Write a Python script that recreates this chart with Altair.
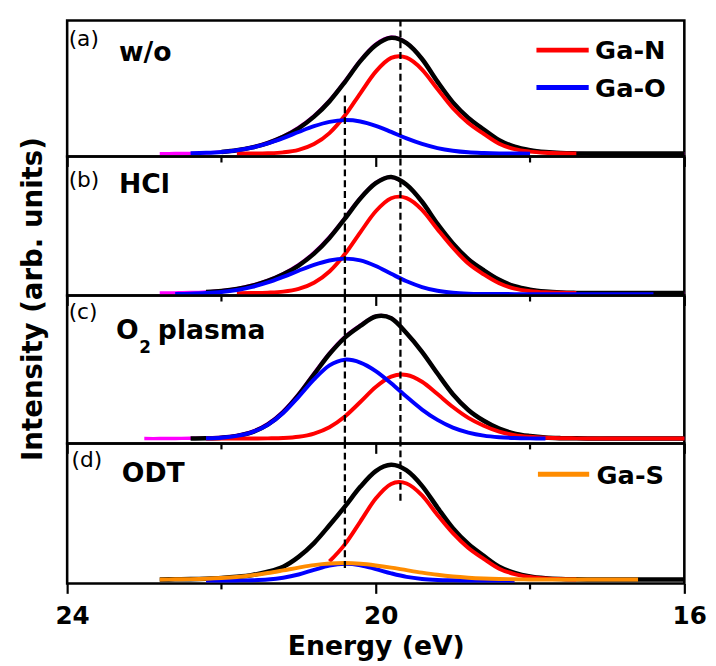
import altair as alt
import pandas as pd

N = None

# Binding energy grid (eV)
ENERGY = [23.0, 22.8, 22.6, 22.4, 22.2, 22.0, 21.8, 21.6, 21.4, 21.2,
          21.0, 20.8, 20.6, 20.4, 20.2, 20.0, 19.8, 19.6, 19.4, 19.2,
          19.0, 18.8, 18.6, 18.4, 18.2, 18.0, 17.8, 17.6, 17.4, 17.2,
          17.0, 16.8, 16.6, 16.4, 16.2, 16.0]

# (a) w/o
A_DATA = [N, 3.0, 3.1, 3.3, 3.8, 4.8, 6.6, 9.6, 14.2, 20.6,
          29.5, 41.4, 57.0, 76.6, 97.6, 114.0, 121.0, 115.4, 99.0, 76.0,
          55.0, 39.3, 27.5, 16.7, 10.0, 6.5, 4.6, 3.6, 3.2, 3.0,
          3.0, 3.0, 3.0, 3.0, 3.0, 3.0]
A_FIT = [N, N, N, N, N, 4.7, 6.4, 9.3, 13.7, 20.0,
         28.7, 40.5, 56.0, 75.6, 96.8, 113.0, 120.5, 115.0, 99.0, 76.0,
         55.0, 39.3, 27.5, 16.7, 10.0, 6.5, 4.6, 3.6, 3.2, 3.0,
         3.0, 3.0, 3.0, 3.0, 3.0, 3.0]
A_GAN = [N, N, N, N, N, N, 3.0, 3.1, 3.4, 4.3,
         6.8, 12.7, 23.8, 41.6, 64.2, 86.2, 100.1, 100.3, 88.3, 68.5,
         49.0, 34.0, 23.0, 13.0, 7.5, 5.0, 3.8, 3.3, 3.1, N,
         N, N, N, N, N, N]
A_GAO = [N, N, N, 3.3, 3.8, 4.7, 6.4, 9.2, 13.3, 18.7,
         24.9, 30.8, 35.2, 37.0, 35.6, 31.2, 25.0, 18.4, 12.8, 8.6,
         5.9, 4.3, 3.6, 3.2, 3.1, 3.0, N, N, N, N,
         N, N, N, N, N, N]

# (b) HCl
B_DATA = [N, 2.6, 2.8, 3.1, 3.8, 5.0, 7.1, 10.5, 15.4, 22.2,
          31.4, 43.6, 59.5, 79.0, 99.2, 114.5, 120.0, 112.4, 95.2, 72.7,
          52.9, 37.0, 25.7, 16.0, 9.5, 6.0, 4.1, 3.1, 2.7, 2.5,
          2.5, 2.5, 2.5, 2.5, 2.5, 2.5]
B_FIT = [N, N, N, N, 3.6, 4.7, 6.7, 10.0, 14.8, 21.5,
         30.5, 42.6, 58.5, 78.1, 98.5, 114.0, 120.3, 112.4, 95.2, 72.7,
         52.9, 37.0, 25.7, 16.0, 9.5, 6.0, 4.1, 3.1, 2.7, 2.5,
         2.5, 2.5, 2.5, 2.5, 2.5, 2.5]
B_GAN = [N, N, N, N, N, N, 2.5, 2.6, 3.0, 4.0,
         6.8, 13.0, 24.4, 42.1, 64.2, 85.5, 98.7, 98.9, 87.0, 67.3,
         48.5, 32.5, 21.5, 12.5, 7.0, 4.5, 3.3, 2.8, 2.6, N,
         N, N, N, N, N, N]
B_GAO = [N, N, 1.7, 2.0, 2.6, 3.7, 5.7, 8.9, 13.3, 19.0,
         25.2, 31.1, 35.6, 37.5, 35.8, 30.0, 22.1, 14.5, 8.7, 4.9,
         2.9, 2.0, 1.7, 1.6, 1.5, 1.5, 1.5, 1.5, 1.5, 1.5,
         1.5, 1.5, 1.5, 1.5, N, N]

# (c) O2 plasma
C_DATA = [5.0, 5.0, 5.1, 5.3, 5.6, 6.3, 8.3, 12.3, 20.1, 32.8,
          50.4, 71.3, 91.8, 108.3, 120.0, 129.2, 127.2, 111.8, 93.0, 71.0,
          50.0, 34.0, 23.0, 15.0, 10.0, 7.5, 6.0, 5.4, 5.2, 5.0,
          5.0, 5.0, 5.0, 5.0, 5.0, 5.0]
C_FIT = [N, N, N, 5.1, 5.3, 5.9, 7.7, 11.5, 19.1, 31.6,
         49.2, 70.1, 90.7, 107.4, 119.2, 128.8, 126.9, 111.8, 93.0, 71.0,
         50.0, 34.0, 23.0, 15.0, 10.0, 7.5, 6.0, 5.4, 5.2, 5.0,
         5.0, 5.0, 5.0, 5.0, 5.0, 5.0]
C_GAN = [N, N, N, N, 5.0, 5.0, 5.0, 5.0, 5.2, 5.6,
         6.9, 10.1, 16.5, 27.4, 42.1, 57.3, 67.8, 69.5, 62.6, 50.1,
         37.0, 26.0, 18.0, 12.0, 8.5, 6.8, 5.9, 5.4, 5.2, 5.0,
         5.0, 5.0, 5.0, 5.0, 5.0, 5.0]
C_GAO = [N, N, N, N, 5.3, 5.9, 7.7, 11.5, 18.9, 31.0,
         47.3, 65.0, 79.2, 85.0, 82.1, 73.5, 61.1, 47.3, 34.4, 23.9,
         16.1, 11.1, 8.0, 6.4, 5.6, 5.2, 5.0, N, N, N,
         N, N, N, N, N, N]

# (d) ODT
D_FIT = [N, 4.1, 4.2, 4.4, 4.8, 5.5, 6.7, 8.6, 11.9, 17.0,
         27.0, 41.0, 59.0, 78.0, 98.0, 114.0, 120.4, 114.6, 99.0, 77.0,
         56.0, 40.0, 28.0, 17.0, 10.8, 7.1, 5.3, 4.5, 4.2, 4.0,
         4.0, 4.0, 4.0, 4.0, 4.0, 4.0]
D_GAN = [N, N, N, N, N, N, N, N, N, N,
         N, N, 22.3, 39.7, 62.8, 86.1, 101.0, 101.4, 89.3, 69.5,
         51.0, 36.0, 25.0, 15.0, 9.5, 6.5, 5.0, 4.4, 4.1, N,
         N, N, N, N, N, N]
D_GAO = [N, N, N, N, 3.0, 3.0, 3.1, 3.3, 4.0, 5.8,
         9.1, 13.8, 18.2, 20.0, 18.5, 14.6, 10.3, 6.7, 4.6, 3.6,
         3.2, 3.0, 3.0, 3.0, 3.0, N, N, N, N, N,
         N, N, N, N, N, N]
D_GAS = [N, 4.1, 4.2, 4.4, 4.8, 5.5, 6.6, 8.3, 10.6, 13.3,
         16.1, 18.6, 20.2, 20.7, 20.0, 18.3, 16.1, 13.5, 11.0, 8.8,
         7.1, 5.9, 5.1, 4.6, 4.3, 4.1, 4.0, 4.0, 4.0, 4.0,
         4.0, 4.0, 4.0, N, N, N]

PANEL_HEIGHT = [138, 141, 150, 142]
DASH_ENERGY = [20.40, 19.68]
DASH_FROM = [[0, 0], [0, 0], [0, 0], [15.7, 84]]
DASH_TO = [[65, 138], [141, 141], [150, 150], [142, 142]]
MAJOR_TICKS = [24, 20, 16]
MINOR_TICKS = [22, 18]

COL_DATA, COL_FIT = "#ff00ff", "#000000"
COL_GAN, COL_GAO, COL_GAS = "#ff0000", "#0000ff", "#ff8c00"
FONT = "DejaVu Sans"
W = 626

X_SCALE = alt.Scale(domain=[16, 24], reverse=True, nice=False, zero=False)


def x_enc(last):
    if last:
        ax = alt.Axis(values=MAJOR_TICKS, tickSize=10, tickWidth=2.2, tickColor="black",
                      domain=False, grid=False, labelFont=FONT, labelFontSize=25,
                      labelFontWeight="bold", labelColor="black", labelPadding=11,
                      labelOffset=5, labelFlush=False, titleFont=FONT, titleFontSize=27,
                      titleFontWeight="bold", titleColor="black", titleY=72,
                      titleBaseline="alphabetic")
        return alt.X("E:Q", scale=X_SCALE, axis=ax, title="Energy (eV)")
    ax = alt.Axis(values=MAJOR_TICKS, tickSize=10, tickWidth=2.2, tickColor="black",
                  domain=False, grid=False, labels=False)
    return alt.X("E:Q", scale=X_SCALE, axis=ax, title=None)


def y_enc(h, with_title):
    sc = alt.Scale(domain=[0, h], nice=False, zero=False)
    if with_title:
        ax = alt.Axis(ticks=False, labels=False, domain=False, grid=False,
                      titleFont=FONT, titleFontSize=28, titleFontWeight="bold",
                      titleColor="black", titleAngle=270, titleX=-26.5, titleY=144,
                      titleAlign="center", titleBaseline="alphabetic")
        return alt.Y("I:Q", scale=sc, axis=ax, title="Intensity (arb. units)")
    return alt.Y("I:Q", scale=sc, axis=None)


def frame(values, name):
    rows = [{"E": e, "I": v, "s": name} for e, v in zip(ENERGY, values) if v is not None]
    return pd.DataFrame(rows)


def text_layer(txt, px, py, size, weight="bold"):
    return alt.Chart(pd.DataFrame({"t": [txt]})).mark_text(
        align="left", baseline="alphabetic", font=FONT, fontSize=size,
        fontWeight=weight, color="black").encode(
        x=alt.value(px), y=alt.value(py), text="t:N")


def legend_line(x1, x2, py, color):
    return alt.Chart(pd.DataFrame({"k": [0]})).mark_rule(
        color=color, strokeWidth=5).encode(
        x=alt.value(x1), x2=alt.value(x2), y=alt.value(py))


def make_panel(idx, curves, extra):
    h = PANEL_HEIGHT[idx]
    xe = x_enc(idx == 3)
    ye = y_enc(h, idx == 1)
    layers = []
    for values, name, color, width in curves:
        layers.append(alt.Chart(frame(values, name)).mark_line(
            color=color, strokeWidth=width, interpolate="cardinal").encode(x=xe, y=ye))
    dash = pd.DataFrame({"E": DASH_ENERGY, "I": DASH_FROM[idx], "I2": DASH_TO[idx]})
    layers.append(alt.Chart(dash).mark_rule(color="black", strokeWidth=2.3,
                                            strokeDash=[7, 4]).encode(x=xe, y=ye, y2="I2:Q"))
    ticks = pd.DataFrame({"E": MINOR_TICKS})
    layers.append(alt.Chart(ticks).mark_rule(color="black", strokeWidth=2.2).encode(
        x=xe, y=alt.value(h), y2=alt.value(h + 6)))
    layers.extend(extra)
    return alt.layer(*layers).properties(width=W, height=h)


LW_FIT, LW_COMP, LW_DATA = 4.6, 4.0, 3.4

pa = make_panel(0, [(A_DATA, "data", COL_DATA, LW_DATA), (A_FIT, "fit", COL_FIT, LW_FIT),
                    (A_GAN, "Ga-N", COL_GAN, LW_COMP), (A_GAO, "Ga-O", COL_GAO, LW_COMP)],
                [text_layer("(a)", 1.5, 26, 22, "normal"),
                 text_layer("w/o", 52.5, 41, 27),
                 legend_line(476, 529, 30, COL_GAN), text_layer("Ga-N", 535.5, 39.5, 26),
                 legend_line(476, 529, 68, COL_GAO), text_layer("Ga-O", 535.5, 77.5, 26)])

pb = make_panel(1, [(B_DATA, "data", COL_DATA, LW_DATA), (B_FIT, "fit", COL_FIT, LW_FIT),
                    (B_GAN, "Ga-N", COL_GAN, LW_COMP), (B_GAO, "Ga-O", COL_GAO, LW_COMP)],
                [text_layer("(b)", 1.5, 31, 22, "normal"),
                 text_layer("HCl", 52.5, 37, 27)])

pc = make_panel(2, [(C_DATA, "data", COL_DATA, LW_DATA), (C_FIT, "fit", COL_FIT, LW_FIT),
                    (C_GAN, "Ga-N", COL_GAN, LW_COMP), (C_GAO, "Ga-O", COL_GAO, LW_COMP)],
                [text_layer("(c)", 1.5, 24, 22, "normal"),
                 text_layer("O", 49.5, 44, 27),
                 text_layer("2", 73, 58, 17),
                 text_layer("plasma", 92, 44, 27)])

pd_ = make_panel(3, [(D_FIT, "fit", COL_FIT, LW_FIT), (D_GAN, "Ga-N", COL_GAN, LW_COMP),
                     (D_GAO, "Ga-O", COL_GAO, LW_COMP), (D_GAS, "Ga-S", COL_GAS, LW_COMP)],
                 [text_layer("(d)", 4.5, 24, 22, "normal"),
                  text_layer("ODT", 55.5, 38.7, 27),
                  legend_line(477.5, 529.5, 31.3, COL_GAS), text_layer("Ga-S", 537, 41, 26)])

chart = alt.vconcat(pa, pb, pc, pd_, spacing=0, bounds="flush").properties(
    padding={"left": 10, "top": 5, "right": 0, "bottom": 0}
).configure(font=FONT).configure_view(stroke="black", strokeWidth=2.6)

chart.save("out.html", embed_options={"renderer": "svg", "actions": False})
